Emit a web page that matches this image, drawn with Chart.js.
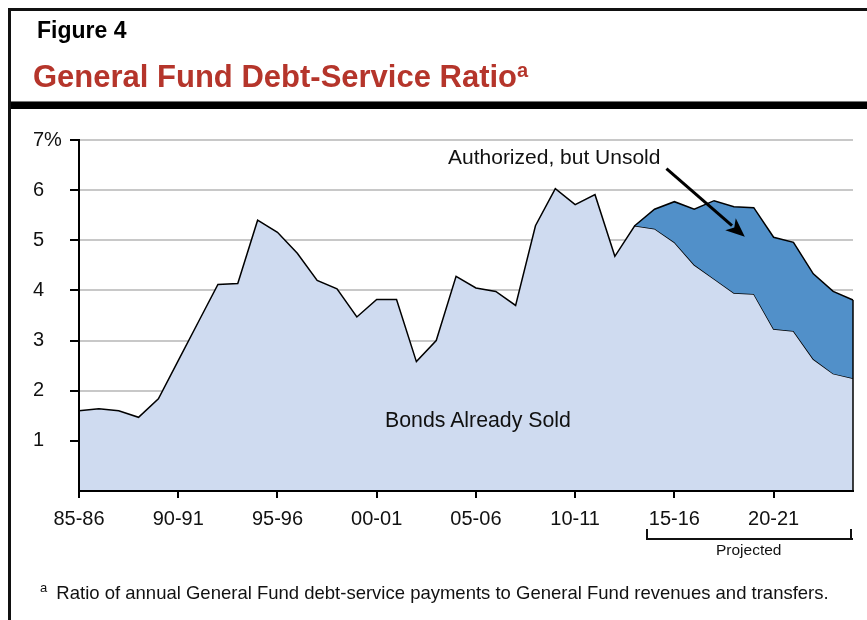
<!DOCTYPE html>
<html>
<head>
<meta charset="utf-8">
<script src="https://cdn.jsdelivr.net/npm/chart.js@4"></script>
<style>
  html, body { margin: 0; padding: 0; background: #fff; }
  #page { position: relative; width: 867px; height: 620px; overflow: hidden; font-family: "Liberation Sans", Arial, Helvetica, sans-serif; }
  #c { position: absolute; left: 0; top: 0; }
  .abs { position: absolute; white-space: nowrap; line-height: 1; }
</style>
</head>
<body>
<div id="page">
  <canvas id="c" width="867" height="620"></canvas>
  <!-- frame -->
  <div class="abs" style="left:8px; top:8px; width:3px; height:612px; background:#111;"></div>
  <div class="abs" style="left:8px; top:8px; width:859px; height:3px; background:#111;"></div>
  <div class="abs" style="left:11px; top:101px; width:856px; height:1px; background:#777;"></div>
  <div class="abs" style="left:11px; top:102px; width:856px; height:7px; background:#000;"></div>
  <!-- titles -->
  <div class="abs" style="left:37px; top:19px; font-size:23px; font-weight:bold; color:#000;">Figure 4</div>
  <div class="abs" style="left:33px; top:61px; font-size:31px; font-weight:bold; color:#b5352b;">General Fund Debt-Service Ratio<span style="font-size:20px; position:relative; top:-10px;">a</span></div>
  <!-- annotations -->
  <div class="abs" style="left:448px; top:146px; font-size:21px; color:#111;">Authorized, but Unsold</div>
  <div class="abs" style="left:385px; top:410px; font-size:21.3px; color:#111;">Bonds Already Sold</div>
  <!-- projected bracket -->
  <div class="abs" style="left:646px; top:538px; width:207px; height:2px; background:#111;"></div>
  <div class="abs" style="left:646px; top:529px; width:2px; height:11px; background:#111;"></div>
  <div class="abs" style="left:850px; top:529px; width:2px; height:11px; background:#111;"></div>
  <div class="abs" style="left:716px; top:542px; font-size:15.5px; color:#111;">Projected</div>
  <!-- footnote -->
  <div class="abs" style="left:40px; top:584px; font-size:18.5px; color:#111;"><span style="font-size:13px; position:relative; top:-7px; margin-right:4px;">a</span> Ratio of annual General Fund debt-service payments to General Fund revenues and transfers.</div>
</div>
<script>
// ---- data ----
const years = ['85-86','86-87','87-88','88-89','89-90','90-91','91-92','92-93','93-94','94-95',
               '95-96','96-97','97-98','98-99','99-00','00-01','01-02','02-03','03-04','04-05',
               '05-06','06-07','07-08','08-09','09-10','10-11','11-12','12-13','13-14','14-15',
               '15-16','16-17','17-18','18-19','19-20','20-21','21-22','22-23','23-24','24-25'];
const bondsAlreadySold = [1.60,1.64,1.60,1.47,1.84,2.60,3.36,4.12,4.14,5.40,
                          5.16,4.74,4.20,4.03,3.47,3.82,3.82,2.58,3.00,4.28,
                          4.05,3.98,3.70,5.29,6.03,5.71,5.91,4.68,5.29,5.23,
                          4.96,4.51,4.23,3.95,3.93,3.23,3.19,2.63,2.34,2.25];
const authorizedUnsold = [null,null,null,null,null,null,null,null,null,null,
                          null,null,null,null,null,null,null,null,null,null,
                          null,null,null,null,null,null,null,null,0.00,0.39,
                          0.81,1.11,1.56,1.72,1.72,1.83,1.77,1.70,1.64,1.56];
const xTickLabels = ['85-86','90-91','95-96','00-01','05-06','10-11','15-16','20-21'];
const yTickLabels = [null,'1','2','3','4','5','6','7%'];
// arrow annotation (in data units: category index, percent)
const arrowFrom = [29.6, 6.43];
const arrowTo = [33.55, 5.07];

// stacked top of the unsold band, built from the two series
const totalDebt = bondsAlreadySold.map((v, i) => authorizedUnsold[i] == null ? null : v + authorizedUnsold[i]);

const FONT = '"Liberation Sans", Arial, Helvetica, sans-serif';

const extrasPlugin = {
  id: 'extras',
  afterDatasetsDraw(chart) {
    const ctx = chart.ctx, xs = chart.scales.x, ys = chart.scales.y;
    const last = years.length - 1;
    const top = totalDebt[last] ?? bondsAlreadySold[last];
    const xr = xs.getPixelForValue(last);
    ctx.save();
    ctx.strokeStyle = '#000';
    ctx.lineWidth = 1.5;
    ctx.beginPath();
    ctx.moveTo(xr, ys.getPixelForValue(top));
    ctx.lineTo(xr, ys.getPixelForValue(0));
    ctx.stroke();
    // arrow
    const x1 = xs.getPixelForValue(arrowFrom[0]), y1 = ys.getPixelForValue(arrowFrom[1]);
    const x2 = xs.getPixelForValue(arrowTo[0]), y2 = ys.getPixelForValue(arrowTo[1]);
    const ang = Math.atan2(y2 - y1, x2 - x1);
    const hl = 19, hw = 8;
    const bx = x2 - hl * Math.cos(ang), by = y2 - hl * Math.sin(ang);
    ctx.lineWidth = 3;
    ctx.beginPath();
    ctx.moveTo(x1, y1);
    ctx.lineTo(bx + 2 * Math.cos(ang), by + 2 * Math.sin(ang));
    ctx.stroke();
    ctx.fillStyle = '#000';
    ctx.beginPath();
    ctx.moveTo(x2, y2);
    ctx.lineTo(bx + hw * Math.sin(ang), by - hw * Math.cos(ang));
    ctx.lineTo(bx + 5 * Math.cos(ang), by + 5 * Math.sin(ang));
    ctx.lineTo(bx - hw * Math.sin(ang), by + hw * Math.cos(ang));
    ctx.closePath();
    ctx.fill();
    ctx.restore();
  }
};

new Chart(document.getElementById('c'), {
  type: 'line',
  data: {
    labels: years,
    datasets: [
      {
        label: 'Bonds Already Sold',
        data: bondsAlreadySold,
        backgroundColor: '#cfdbf0',
        borderColor: '#000',
        borderWidth: 1.5,
        fill: 'origin',
        pointRadius: 0,
        tension: 0,
        order: 2
      },
      {
        label: 'Authorized, but Unsold',
        data: totalDebt,
        backgroundColor: '#5190c9',
        borderColor: '#000',
        borderWidth: 1.5,
        fill: '-1',
        pointRadius: 0,
        tension: 0,
        spanGaps: false,
        order: 1
      }
    ]
  },
  options: {
    responsive: false,
    animation: false,
    events: [],
    layout: { padding: { left: 33, top: 140, right: 14, bottom: 89 } },
    plugins: { legend: { display: false }, tooltip: { enabled: false }, title: { display: false } },
    scales: {
      x: {
        type: 'category',
        offset: false,
        afterFit(scale) { scale.height = 40; },
        grid: { display: true, drawOnChartArea: false, drawTicks: true, tickLength: 7, tickColor: '#000', lineWidth: 2, color: '#000' },
        border: { display: true, color: '#000', width: 2, z: 1 },
        ticks: {
          autoSkip: false, maxRotation: 0, minRotation: 0, padding: 9,
          color: '#111', font: { family: FONT, size: 20 },
          callback(value, index) {
            const l = years[index];
            return xTickLabels.includes(l) ? l : null;
          }
        }
      },
      y: {
        min: 0, max: 7,
        afterFit(scale) { scale.width = 46; },
        grid: { color: '#c8c8c8', lineWidth: 2, tickColor: '#000', tickLength: 9, drawTicks: true },
        border: { display: true, color: '#000', width: 2, z: 1 },
        ticks: {
          stepSize: 1, padding: 7, crossAlign: 'far',
          color: '#111', font: { family: FONT, size: 20 },
          callback(value) { return yTickLabels[value] ?? null; }
        }
      }
    }
  },
  plugins: [extrasPlugin]
});
</script>
</body>
</html>
